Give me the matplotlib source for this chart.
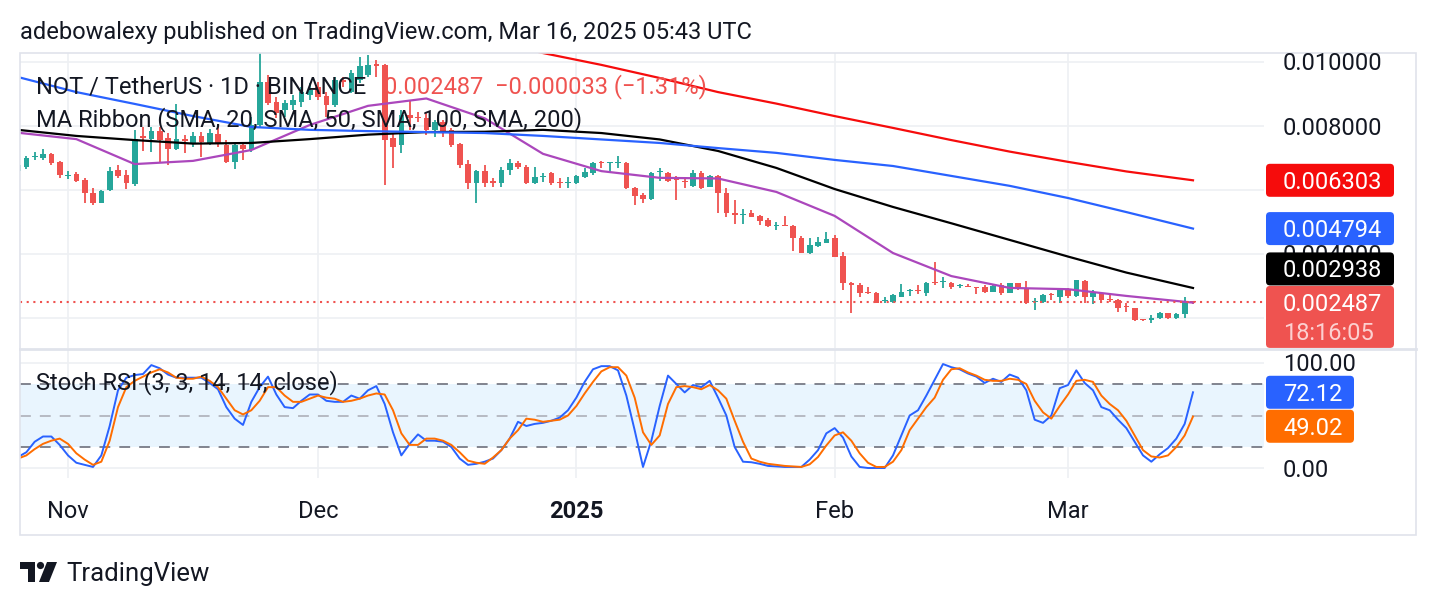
import numpy as np
import pandas as pd
import matplotlib
matplotlib.use("Agg")
import matplotlib.pyplot as plt
from matplotlib.patches import FancyBboxPatch, Rectangle, Polygon, Circle

plt.rcParams['font.family'] = ['Roboto', 'DejaVu Sans']

W, H = 1436, 606

# ---- data (prices in units of 0.00001 USDT), daily candles from 2024-10-26 ----
start_date = pd.Timestamp('2024-10-26')

opens = np.array([
    660, 671, 703, 700, 713, 688, 645, 650, 631, 591,
    560, 600, 663, 647, 619, 769, 759, 784, 763, 729,
    759, 744, 769, 748, 775, 741, 688, 741, 725, 803,
    938, 876, 850, 866, 876, 897, 923, 894, 866, 944,
    907, 944, 959, 994, 991, 762, 741, 834, 829, 824,
    788, 813, 788, 743, 681, 621, 660, 628, 621, 663,
    683, 673, 623, 641, 652, 623, 623, 623, 642, 654,
    685, 684, 684, 683, 605, 584, 572, 656, 654, 633,
    628, 613, 654, 610, 644, 590, 528, 522, 529, 519,
    506, 488, 492, 488, 449, 404, 425, 435, 449, 394,
    309, 303, 282, 277, 253, 251, 267, 284, 288, 279,
    310, 312, 310, 300, 301, 294, 298, 282, 303, 279,
    308, 290, 250, 251, 275, 265, 290, 269, 317, 265,
    277, 257, 256, 235, 230, 195, 194, 199, 215, 199,
    213, 252]) * 1e-5
highs = np.array([
    681, 706, 719, 728, 716, 691, 660, 656, 638, 606,
    600, 673, 678, 663, 788, 797, 797, 797, 778, 869,
    772, 782, 782, 791, 806, 756, 747, 747, 828, 1028,
    959, 892, 881, 897, 923, 934, 938, 907, 954, 954,
    975, 1017, 1022, 1006, 995, 777, 850, 881, 845, 840,
    819, 819, 794, 746, 694, 663, 678, 637, 673, 696,
    692, 678, 673, 654, 655, 637, 642, 647, 668, 688,
    692, 688, 706, 686, 610, 590, 657, 668, 657, 644,
    642, 663, 660, 647, 647, 605, 569, 540, 538, 522,
    512, 501, 519, 490, 456, 449, 452, 470, 459, 407,
    313, 308, 298, 280, 267, 275, 306, 290, 303, 313,
    376, 329, 313, 305, 306, 298, 303, 303, 308, 310,
    310, 317, 262, 275, 277, 293, 293, 319, 319, 288,
    279, 275, 258, 246, 232, 196, 209, 220, 217, 217,
    265, 254]) * 1e-5
lows = np.array([
    656, 666, 694, 694, 678, 638, 634, 625, 559, 553,
    559, 597, 638, 603, 613, 723, 720, 684, 678, 725,
    716, 735, 704, 741, 735, 683, 665, 694, 719, 797,
    866, 824, 829, 850, 860, 881, 881, 829, 860, 923,
    902, 933, 954, 954, 616, 668, 715, 788, 813, 772,
    767, 767, 735, 668, 602, 558, 610, 610, 610, 647,
    665, 619, 620, 626, 616, 605, 605, 618, 637, 647,
    668, 657, 668, 603, 553, 560, 569, 629, 626, 569,
    605, 610, 602, 608, 527, 517, 494, 494, 515, 491,
    483, 475, 486, 410, 402, 401, 423, 433, 390, 288,
    215, 267, 275, 246, 248, 248, 265, 269, 275, 269,
    303, 293, 290, 293, 296, 275, 277, 280, 272, 277,
    288, 244, 225, 248, 256, 246, 262, 267, 246, 244,
    246, 251, 220, 220, 192, 192, 183, 196, 196, 197,
    199, 244]) * 1e-5
closes = np.array([
    678, 699, 706, 711, 685, 647, 648, 629, 591, 560,
    598, 660, 644, 622, 759, 763, 784, 756, 729, 759,
    754, 769, 751, 777, 748, 688, 741, 728, 803, 938,
    871, 840, 871, 881, 907, 913, 892, 866, 944, 938,
    965, 988, 991, 988, 756, 735, 834, 825, 826, 788,
    813, 782, 741, 678, 621, 660, 621, 623, 663, 685,
    671, 621, 640, 644, 621, 621, 626, 644, 657, 685,
    683, 685, 688, 605, 581, 572, 652, 657, 629, 631,
    626, 652, 605, 644, 590, 527, 523, 525, 517, 504,
    488, 491, 488, 449, 404, 428, 438, 446, 392, 308,
    304, 279, 279, 248, 254, 272, 282, 285, 285, 308,
    308, 313, 298, 301, 298, 293, 280, 300, 277, 308,
    290, 248, 251, 272, 273, 288, 269, 319, 265, 277,
    256, 256, 230, 233, 194, 193, 199, 215, 199, 213,
    252, 248.7]) * 1e-5

# moving averages read every week (days since start)
ma_days = [0, 7, 14, 21, 28, 35, 42, 49, 56, 63, 70, 77, 84, 91, 98, 105, 112, 119, 126, 133, 141]
sma20 = np.array([779, 759, 681, 691, 725, 803, 863, 886, 824, 713, 659, 638, 636, 594,
                  519, 403, 331, 294, 290, 269, 248]) * 1e-5
sma50 = np.array([788, 769, 756, 745, 747, 759, 773, 781, 782, 788, 778, 758, 722, 669,
                  603, 547, 496, 444, 392, 342, 293.8]) * 1e-5
sma100 = np.array([953, 906, 869, 831, 797, 788, 784, 781, 778, 769, 758, 747, 731, 716,
                   694, 675, 644, 613, 575, 531, 479.4]) * 1e-5
sma200_days = [56, 63, 70, 77, 84, 91, 98, 105, 112, 119, 126, 133, 141]
sma200 = np.array([1069, 1028, 991, 950, 906, 870, 831, 794, 756, 720, 688, 658, 630.3]) * 1e-5

stoch_k = np.array([
    10.5, 15, 25, 30, 30, 22, 12, 5, 3, 1,
    12, 40, 74, 86, 88.5, 89.5, 98, 95, 89, 86,
    86, 86, 86, 81, 75, 58, 47, 41, 63, 77,
    87, 70, 58, 57, 64, 70, 70, 64, 63, 63,
    69, 66, 74, 78, 61, 34, 12, 23, 32, 26,
    26, 25, 20, 9, 3, 4, 6, 9, 17, 28,
    44, 40, 42, 43, 45, 48, 55, 67, 82, 94,
    97, 97, 93, 69, 36, 1, 26, 59, 88, 80,
    72, 79, 77, 83, 67, 50, 20, 6, 5.5, 4,
    2, 1.5, 1, 1, 1, 8, 17, 33, 38, 29,
    11, 1, 0, 0, 0, 12, 31, 50, 55, 69,
    84, 99, 96, 94, 90, 87, 81, 85, 82, 89,
    86, 74, 46, 43, 50, 76, 79, 93, 81, 74,
    58, 55, 46, 38, 25, 12, 6, 13, 19, 28,
    42, 72.12])
stoch_d = np.array([
    9, 12, 18, 23, 26, 28, 23, 14, 8, 3,
    6, 26, 58, 77, 83, 87, 91, 94, 91, 86,
    85, 85, 87, 83, 77, 66, 55, 51, 55, 64,
    77, 77, 69, 63, 63, 66, 69, 67, 66, 63,
    64, 66, 69, 71, 70, 55, 33, 22, 22, 28,
    28, 26, 22, 15, 7, 5, 4, 10, 17, 28,
    36, 47, 46, 44, 45, 46, 50, 59, 71, 82,
    92, 96, 96, 88, 67, 34, 22, 31, 61, 77,
    78, 77, 75, 79, 74, 66, 45, 25, 9, 6,
    4, 3, 2, 1.5, 1, 3.5, 10.5, 21.5, 31, 34,
    26, 14, 5, 1, 1, 6, 17, 36, 47, 58,
    67, 84, 94, 95, 91, 88, 84, 83, 83, 85,
    84, 80, 64, 53, 47, 59, 70, 83, 84, 82,
    69, 61, 55, 45, 31, 17, 11, 10, 12, 20,
    31, 49.02])

# 0.006000 and 0.002000 sit fully under the value tags, so only these show
price_ticks = [0.004, 0.008, 0.010]
grid_levels = [0.002, 0.004, 0.006, 0.008, 0.010]
month_dates = ['2024-11-01', '2024-12-01', '2025-01-01', '2025-02-01', '2025-03-01']
month_labels = ['Nov', 'Dec', '2025', 'Feb', 'Mar']
change_text = '0.002487  \u22120.000033 (\u22121.31%)'
countdown = '18:16:05'

# ---- figure ----
days = np.arange(len(opens))
month_pos = [(pd.Timestamp(d) - start_date).days for d in month_dates]

fig = plt.figure(figsize=(W / 100, H / 100), dpi=100)
fig.patch.set_facecolor('white')
ax = fig.add_axes([20 / W, 1 - 348 / H, 1244 / W, 295 / H])
ax2 = fig.add_axes([20 / W, 1 - 478 / H, 1244 / W, 129 / H])
for a in (ax, ax2):
    a.set_axis_off()
    a.set_xlim(0.24, 149.52)
ax.set_ylim(0.0010625, 0.01028125)
ax2.set_ylim(-9.52, 113.33)

grid = '#eef0f3'
for v in grid_levels:
    ax.axhline(v, color=grid, lw=1.2, zorder=0)
for m in month_pos:
    ax.axvline(m, color=grid, lw=1.2, zorder=0)
    ax2.axvline(m, color=grid, lw=1.2, zorder=0)
ax2.axhline(0, color=grid, lw=1.2, zorder=0)
ax2.axhline(100, color=grid, lw=1.2, zorder=0)

# candles
up = closes >= opens
col = np.where(up, '#26a69a', '#ef5350')
ax.vlines(days, lows, highs, colors=col, lw=1.3, zorder=2)
ax.bar(days, np.maximum(np.abs(closes - opens), 0.00003), bottom=np.minimum(opens, closes),
       width=0.68, color=col, lw=0, zorder=3)

# MA ribbon
ax.plot(ma_days, sma20, color='#ab47bc', lw=1.6, zorder=4)
ax.plot(ma_days, sma50, color='#000000', lw=1.6, zorder=4)
ax.plot(ma_days, sma100, color='#2962ff', lw=1.6, zorder=4)
ax.plot(sma200_days, sma200, color='#f60c0c', lw=1.6, zorder=4)
ax.axhline(closes[-1], color='#ef5350', lw=1.5, ls=(0, (1, 2.2)), zorder=5)

# stoch rsi
ax2.axhspan(20, 80, color='#e9f5fe', lw=0, zorder=0)
ax2.axhline(80, color='#787b86', lw=1.3, ls=(0, (6, 5)), zorder=1)
ax2.axhline(50, color='#b2b5be', lw=1.3, ls=(0, (6, 5)), zorder=1)
ax2.axhline(20, color='#787b86', lw=1.3, ls=(0, (6, 5)), zorder=1)
ax2.plot(days, stoch_k, color='#2962ff', lw=1.4, zorder=3)
ax2.plot(days, stoch_d, color='#ff6d00', lw=1.4, zorder=3)

# ---- overlay in image pixels ----
ov = fig.add_axes([0, 0, 1, 1], zorder=10)
ov.set_xlim(0, W)
ov.set_ylim(H, 0)
ov.set_axis_off()

DY = 2  # centre text on the glyphs rather than the line box


def img_y(a, v):
    return H - a.transData.transform((0, v))[1]


def img_x(a, d):
    return a.transData.transform((d, 0))[0]


def label(x, y, s, **kw):
    kw.setdefault('fontsize', 17)
    kw.setdefault('color', '#131722')
    kw.setdefault('va', 'center')
    ov.text(x, y + DY, s, **kw)


ov.add_patch(Rectangle((20, 53), 1396, 482, fill=False, ec='#e0e3eb', lw=1.2))
ov.plot([20, 1416], [349, 349], color='#e0e3eb', lw=2)

label(20, 30, 'adebowalexy published on TradingView.com, Mar 16, 2025 05:43 UTC')
label(36, 85, 'NOT / TetherUS \u00b7 1D \u00b7 BINANCE')
label(384, 85, change_text, color='#ef5350')
label(36, 118, 'MA Ribbon (SMA, 20, SMA, 50, SMA, 100, SMA, 200)')
label(36, 381, 'Stoch RSI (3, 3, 14, 14, close)')

for v in price_ticks:
    label(1283, img_y(ax, v), f'{v:.6f}', zorder=3)
label(1283, img_y(ax2, 100), '100.00')
label(1283, img_y(ax2, 0), '0.00')


def tag(y, text, fc, w=128, h=33):
    ov.add_patch(FancyBboxPatch((1266, y - h / 2), w, h, boxstyle='round,pad=0,rounding_size=4',
                                fc=fc, ec='none', zorder=5))
    label(1283, y, text, color='white', zorder=6)


last_y = img_y(ax, closes[-1])
price_top = last_y - 16.5
ov.add_patch(FancyBboxPatch((1266, price_top), 128, 62, boxstyle='round,pad=0,rounding_size=4',
                            fc='#ef5350', ec='none', zorder=5))
label(1283, price_top + 17, f'{closes[-1]:.6f}', color='white', zorder=6)
label(1283, price_top + 46, countdown, color='#fcd0d0', zorder=6)
tag(img_y(ax, sma200[-1]), f'{sma200[-1]:.6f}', '#f60c0c')
tag(img_y(ax, sma100[-1]), f'{sma100[-1]:.6f}', '#2962ff')
tag(min(img_y(ax, sma50[-1]), price_top - 17), f'{sma50[-1]:.6f}', '#000000')

k_y = img_y(ax2, stoch_k[-1])
tag(k_y, f'{stoch_k[-1]:.2f}', '#2962ff', w=88)
tag(max(img_y(ax2, stoch_d[-1]), k_y + 34), f'{stoch_d[-1]:.2f}', '#ff6d00', w=88)

for m, lab in zip(month_pos, month_labels):
    label(img_x(ax2, m), 509, lab, ha='center',
          fontweight='bold' if lab.isdigit() else 'normal')

# TradingView logo
logo = '#131722'
ov.add_patch(Polygon([(20, 562), (35, 562), (35, 582), (28, 582), (28, 569), (20, 569)],
                     closed=True, fc=logo, ec='none'))
ov.add_patch(Circle((40.5, 565.5), 3.6, fc=logo, ec='none'))
ov.add_patch(Polygon([(47, 562), (57, 562), (49, 582), (39, 582)], closed=True, fc=logo, ec='none'))
label(66, 572, 'TradingView', fontsize=18.5)

fig.savefig('out.png', dpi=100, facecolor='white')
